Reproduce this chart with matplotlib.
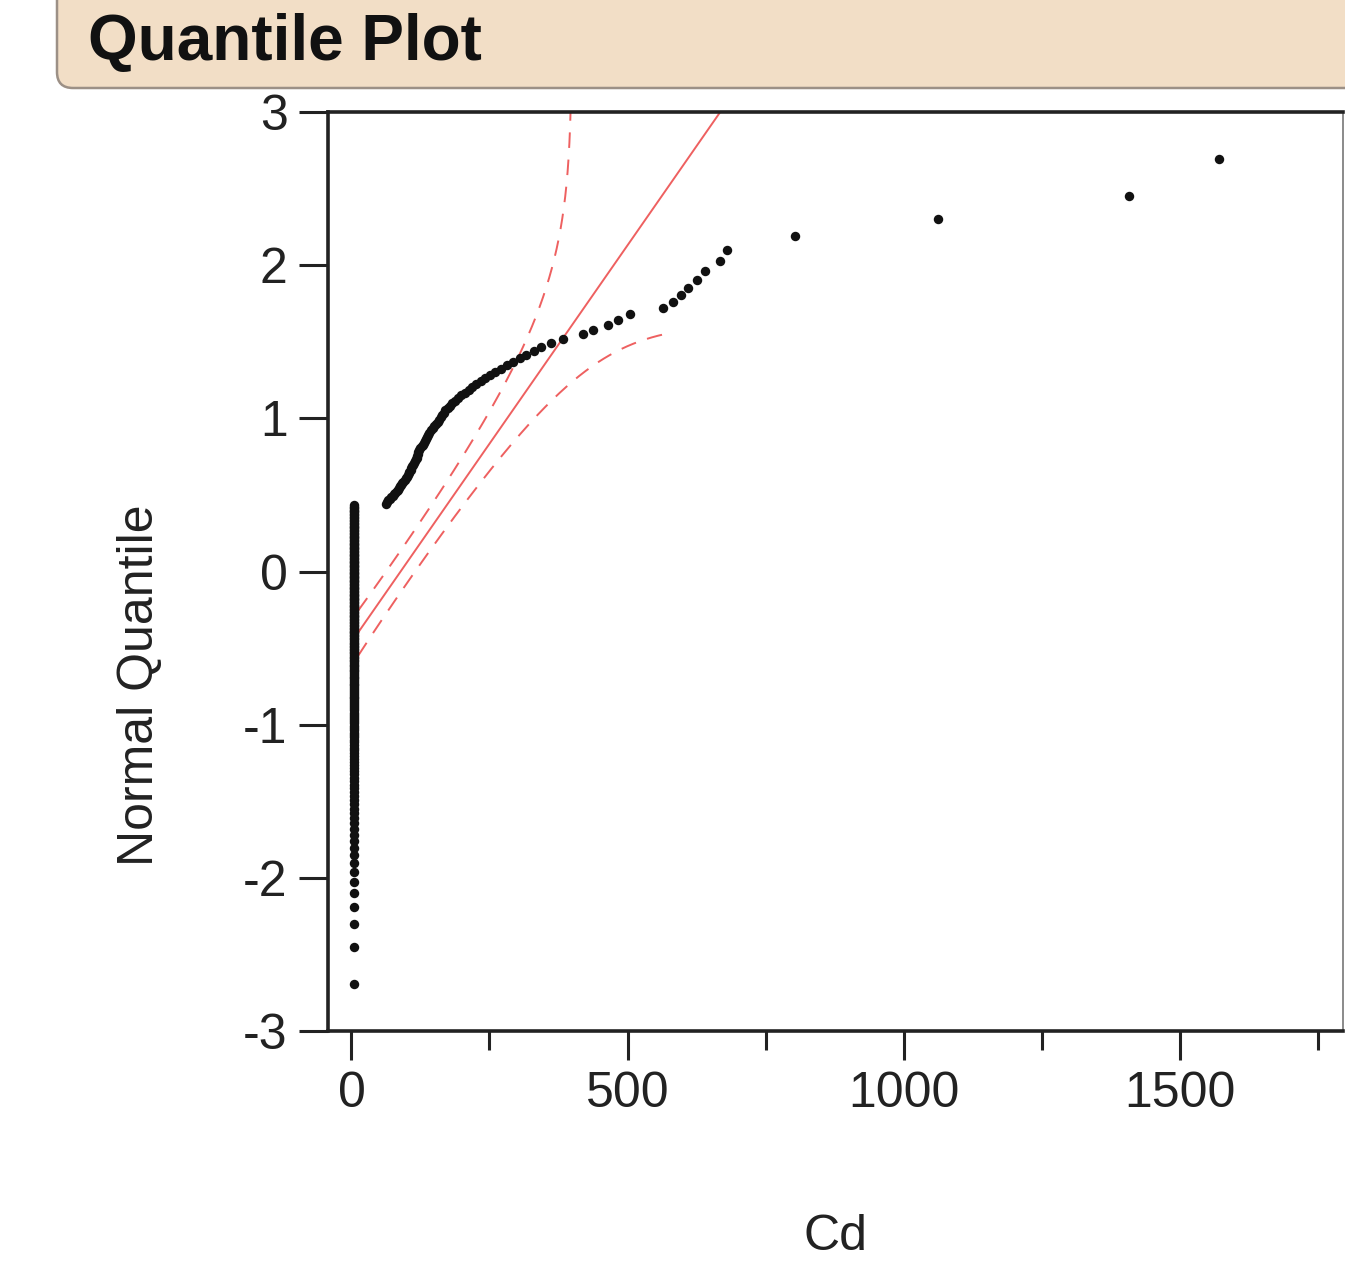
import matplotlib
matplotlib.use("Agg")
import matplotlib.pyplot as plt
from matplotlib.patches import FancyBboxPatch
from matplotlib.transforms import IdentityTransform
from statistics import NormalDist
import numpy as np

# ---------------- data ----------------
low_value = 5          # many observations at the detection level
low_count = 187
upper_values = [
    62, 65, 67, 70, 72, 75, 77, 79, 82, 84, 86, 88, 90, 92, 94, 97, 99, 101, 102, 104, 105, 107, 108,
    110, 112, 113, 115, 116, 118, 119, 120, 121, 123, 125, 127, 129, 131, 133, 135, 137, 139, 141, 144,
    147, 150, 153, 156, 159,
    162, 164, 167, 170, 174, 178, 182, 187, 193, 198, 205, 212, 219, 226, 234, 242, 251, 260, 270, 281,
    292, 305, 317, 330, 344, 362,
    384, 420, 437, 464, 482, 505, 565, 583, 596, 610, 625, 640, 668, 681,
    803, 1063, 1409, 1571,
]
# fitted normal line and Lilliefors band parameters
fit_mean = 89.0
fit_sd = 193.0
band_d = 0.054
line_x_start = 12.0
lower_band_x_end = 568.0

x_ticks = [0, 500, 1000, 1500]
x_minor = [250, 750, 1250, 1750]
y_ticks = [-3, -2, -1, 0, 1, 2, 3]

title = "Quantile Plot"
x_label = "Cd"
y_label = "Normal Quantile"

# ---------------- computation ----------------
nd = NormalDist()
values = np.array([low_value] * low_count + upper_values, dtype=float)
values.sort()
n = len(values)
quant = np.array([nd.inv_cdf(i / (n + 1)) for i in range(1, n + 1)])

plt.rcParams['font.family'] = ['Liberation Sans', 'DejaVu Sans']

W, H, DPI = 1345, 1268, 100
fig = plt.figure(figsize=(W / DPI, H / DPI), dpi=DPI)
fig.patch.set_facecolor('white')

# title bar
box = FancyBboxPatch((57, H - 88), 1320, 130,
                     boxstyle="round,pad=0,rounding_size=16",
                     transform=IdentityTransform(),
                     facecolor='#F2DEC6', edgecolor='#9C9086', linewidth=1.8)
fig.add_artist(box)
fig.text(88 / W, 1 - 60 / H, title, fontsize=46, fontweight='bold',
         ha='left', va='baseline', color='#111111')

left, right = 328 / W, 1343 / W
bottom, top = 1 - 1031 / H, 1 - 112 / H
ax = fig.add_axes([left, bottom, right - left, top - bottom])
ax.set_xlim(-42.5, 1796)
ax.set_ylim(-3, 3)

red = '#EE6060'
# fitted line
xl = np.linspace(line_x_start, 1800, 2000)
ax.plot(xl, (xl - fit_mean) / fit_sd, color=red, lw=1.4, zorder=2)

# Lilliefors bands
xb = np.linspace(line_x_start, 1800, 20000)
F = np.array([nd.cdf((x - fit_mean) / fit_sd) for x in xb])
up_p = F + band_d
mask_up = up_p < 0.999999
yb_up = np.array([nd.inv_cdf(p) for p in up_p[mask_up]])
l1, = ax.plot(xb[mask_up], yb_up, color=red, lw=1.4, zorder=2)
l1.set_dashes((8, 6))
mask_lo = xb <= lower_band_x_end
yb_lo = np.array([nd.inv_cdf(p) for p in (F[mask_lo] - band_d)])
l2, = ax.plot(xb[mask_lo], yb_lo, color=red, lw=1.4, zorder=2)
l2.set_dashes((8, 6))

# data points
ax.plot(values, quant, 'o', color='#111111', markersize=6.8, markeredgewidth=0, zorder=3)

# axes styling
for s in ['left', 'bottom', 'top']:
    ax.spines[s].set_linewidth(2.6)
    ax.spines[s].set_color('#222222')
ax.spines['right'].set_linewidth(1.2)
ax.spines['right'].set_color('#777777')

ax.set_xticks(x_ticks)
ax.set_xticklabels([str(t) for t in x_ticks])
ax.set_xticks(x_minor, minor=True)
ax.set_yticks(y_ticks)
ax.set_yticklabels([str(t) for t in y_ticks])
ax.tick_params(axis='both', which='major', direction='out', length=21, width=2.2,
               labelsize=36, color='#222222', labelcolor='#222222')
ax.tick_params(axis='x', which='major', pad=8)
ax.tick_params(axis='y', which='major', pad=8)
ax.tick_params(axis='x', which='minor', direction='out', length=14, width=2.2, color='#222222')

fig.text(835 / W, 1 - 1237 / H, x_label, fontsize=36, ha='center', va='center', color='#222222')
fig.text(140 / W, 1 - 685 / H, y_label, fontsize=36, ha='center', va='center',
         rotation=90, color='#222222')

fig.savefig('out.png', dpi=DPI)
